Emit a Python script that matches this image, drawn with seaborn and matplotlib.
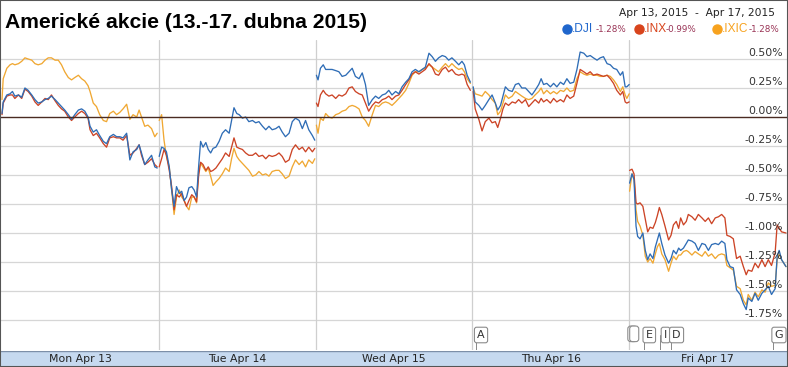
import matplotlib
matplotlib.use("Agg")
import matplotlib.pyplot as plt
import matplotlib.transforms as mtransforms
from matplotlib.lines import Line2D
from matplotlib.patches import Rectangle
import numpy as np
import pandas as pd
import seaborn as sns

# ---------------- data ----------------
title = "Americké akcie (13.-17. dubna 2015)"
date_range = "Apr 13, 2015  -  Apr 17, 2015"
day_labels = ["Mon Apr 13", "Tue Apr 14", "Wed Apr 15", "Thu Apr 16", "Fri Apr 17"]
series_names = [".DJI", ".INX", ".IXIC"]
series_changes = ["-1.28%", "-0.99%", "-1.28%"]
y_ticks = [0.50, 0.25, 0.00, -0.25, -0.50, -0.75, -1.00, -1.25, -1.50, -1.75]
flag_letters = ["A", "E", "I", "D", "G"]
flag_days = [3.055, 4.128, 4.232, 4.302, 4.955]

# minutes after the open (390-minute session)
t_mon = [0, 3, 12, 20, 26, 32, 41, 49, 57, 65, 74, 82, 90, 99, 107, 115, 123, 132, 140, 148,
         156, 165, 173, 181, 190, 198, 206, 214, 219, 227, 235, 243, 252, 260, 268, 277, 285, 293,
         301, 310, 318, 326, 335, 341, 347, 355, 363, 372, 380, 386]
t_tue = [1, 7, 13, 19, 26, 32, 38, 44, 51, 57, 63, 69, 75, 82, 88, 94, 99, 104, 110, 117,
         123, 129, 135, 142, 150, 158, 166, 175, 181, 187, 194, 200, 208, 216, 224, 233, 241, 249,
         258, 266, 274, 282, 291, 299, 307, 315, 324, 332, 340, 349, 357, 365, 373, 382, 388]
t_wed = [2, 6, 12, 19, 25, 33, 41, 50, 58, 66, 75, 83, 91, 99, 108, 116, 124, 132, 141, 149,
         157, 166, 174, 182, 190, 199, 207, 215, 224, 232, 240, 248, 257, 265, 273, 282, 290, 298,
         306, 315, 323, 331, 339, 348, 356, 364, 370, 377, 385]
t_thu = [2, 7, 16, 24, 32, 41, 49, 57, 63, 70, 76, 82, 90, 99, 107, 115, 123, 132, 140, 148,
         156, 165, 171, 177, 185, 194, 202, 210, 219, 227, 235, 243, 252, 260, 268, 277, 285, 293,
         301, 310, 318, 326, 335, 343, 351, 359, 368, 374, 380, 384, 390]
t_fri = [1, 7, 12, 17, 21, 27, 34, 40, 46, 52, 59, 65, 70, 75, 81, 89, 98, 104, 110, 117,
         123, 128, 135, 142, 147, 156, 164, 172, 181, 189, 197, 205, 214, 222, 230, 238, 243, 251,
         259, 267, 276, 284, 291, 296, 305, 313, 321, 330, 338, 346, 354, 363, 368, 373, 379, 390]

dji_mon = [0.03, 0.13, 0.19, 0.20, 0.22, 0.18, 0.19, 0.17, 0.25, 0.23, 0.19, 0.15, 0.12, 0.13, 0.15,
           0.16, 0.18, 0.15, 0.12, 0.09, 0.06, 0.02, -0.02, 0.02, 0.06, 0.07, 0.05, 0.00, -0.08, -0.13,
           -0.11, -0.16, -0.21, -0.23, -0.17, -0.15, -0.17, -0.17, -0.18, -0.14, -0.37, -0.30, -0.28,
           -0.24, -0.31, -0.41, -0.37, -0.33, -0.43, -0.44]
inx_mon = [0.02, 0.12, 0.18, 0.19, 0.19, 0.16, 0.19, 0.16, 0.24, 0.22, 0.18, 0.13, 0.10, 0.13, 0.16,
           0.15, 0.19, 0.14, 0.10, 0.07, 0.05, 0.00, -0.03, 0.00, 0.03, 0.05, 0.03, -0.01, -0.11, -0.16,
           -0.14, -0.18, -0.23, -0.26, -0.18, -0.17, -0.18, -0.18, -0.20, -0.16, -0.33, -0.31, -0.27,
           -0.24, -0.33, -0.41, -0.39, -0.36, -0.41, -0.43]
ixic_mon = [0.15, 0.33, 0.42, 0.45, 0.46, 0.45, 0.46, 0.48, 0.51, 0.50, 0.49, 0.46, 0.45, 0.46, 0.49,
            0.51, 0.51, 0.49, 0.49, 0.45, 0.39, 0.34, 0.32, 0.34, 0.36, 0.33, 0.31, 0.27, 0.22, 0.12,
            0.09, 0.02, -0.03, -0.04, 0.03, 0.05, 0.02, 0.04, 0.07, 0.11, -0.02, 0.02, 0.00, 0.06,
            0.00, -0.08, -0.07, -0.10, -0.17, -0.14]

dji_tue = [-0.34, -0.26, -0.27, -0.30, -0.43, -0.63, -0.77, -0.60, -0.66, -0.64, -0.72, -0.69, -0.61,
           -0.60, -0.63, -0.69, -0.43, -0.21, -0.26, -0.22, -0.28, -0.31, -0.27, -0.26, -0.21, -0.14,
           -0.11, -0.14, -0.03, 0.08, 0.03, 0.02, -0.01, 0.00, -0.04, -0.03, -0.05, -0.04, -0.08, -0.11,
           -0.08, -0.11, -0.10, -0.08, -0.13, -0.17, -0.14, -0.04, -0.01, -0.03, -0.10, -0.03, -0.11,
           -0.16, -0.20]
inx_tue = [-0.43, -0.36, -0.28, -0.33, -0.46, -0.60, -0.80, -0.67, -0.69, -0.66, -0.72, -0.77, -0.72,
           -0.67, -0.69, -0.73, -0.51, -0.39, -0.41, -0.46, -0.43, -0.47, -0.46, -0.44, -0.40, -0.36,
           -0.31, -0.34, -0.26, -0.18, -0.26, -0.27, -0.28, -0.31, -0.33, -0.33, -0.31, -0.34, -0.33,
           -0.36, -0.33, -0.34, -0.33, -0.31, -0.34, -0.39, -0.37, -0.28, -0.24, -0.28, -0.26, -0.30,
           -0.26, -0.30, -0.27]
ixic_tue = [-0.03, 0.02, -0.20, -0.34, -0.43, -0.63, -0.84, -0.69, -0.63, -0.69, -0.72, -0.77, -0.80,
            -0.69, -0.69, -0.74, -0.46, -0.40, -0.43, -0.47, -0.44, -0.51, -0.59, -0.56, -0.53, -0.49,
            -0.44, -0.47, -0.36, -0.27, -0.34, -0.37, -0.40, -0.43, -0.46, -0.51, -0.50, -0.47, -0.50,
            -0.49, -0.51, -0.47, -0.46, -0.46, -0.49, -0.53, -0.51, -0.43, -0.37, -0.41, -0.38, -0.43,
            -0.37, -0.40, -0.36]

dji_wed = [0.36, 0.32, 0.42, 0.45, 0.41, 0.41, 0.41, 0.40, 0.39, 0.35, 0.36, 0.39, 0.42, 0.35, 0.33,
           0.38, 0.28, 0.10, 0.15, 0.18, 0.16, 0.19, 0.20, 0.23, 0.19, 0.22, 0.20, 0.26, 0.30, 0.33,
           0.39, 0.41, 0.39, 0.41, 0.43, 0.55, 0.52, 0.48, 0.51, 0.53, 0.52, 0.49, 0.51, 0.48, 0.45,
           0.48, 0.45, 0.36, 0.30]
inx_wed = [0.12, 0.09, 0.19, 0.23, 0.20, 0.18, 0.19, 0.16, 0.19, 0.18, 0.20, 0.25, 0.26, 0.22, 0.20,
           0.19, 0.12, 0.05, 0.10, 0.13, 0.12, 0.15, 0.16, 0.18, 0.15, 0.18, 0.19, 0.23, 0.28, 0.32,
           0.37, 0.39, 0.37, 0.39, 0.41, 0.46, 0.43, 0.37, 0.36, 0.41, 0.43, 0.39, 0.41, 0.37, 0.36,
           0.37, 0.36, 0.28, 0.23]
ixic_wed = [-0.07, -0.14, -0.01, -0.03, 0.03, 0.00, -0.01, 0.02, 0.03, 0.05, 0.06, 0.09, 0.10, 0.09,
            0.07, 0.00, -0.03, -0.08, 0.02, 0.10, 0.09, 0.12, 0.13, 0.12, 0.10, 0.13, 0.16, 0.19, 0.23,
            0.29, 0.36, 0.39, 0.39, 0.41, 0.42, 0.45, 0.43, 0.41, 0.39, 0.43, 0.46, 0.43, 0.46, 0.43,
            0.41, 0.42, 0.39, 0.33, 0.29]

dji_thu = [0.26, 0.13, 0.10, 0.06, 0.10, 0.15, 0.19, 0.12, 0.06, 0.10, 0.18, 0.26, 0.23, 0.22, 0.28,
           0.29, 0.25, 0.25, 0.22, 0.19, 0.23, 0.28, 0.33, 0.28, 0.29, 0.26, 0.29, 0.26, 0.30, 0.28,
           0.33, 0.29, 0.30, 0.41, 0.56, 0.55, 0.52, 0.53, 0.51, 0.49, 0.51, 0.52, 0.46, 0.45, 0.42,
           0.41, 0.36, 0.39, 0.26, 0.26, 0.28]
inx_thu = [0.22, 0.07, -0.02, -0.12, -0.04, -0.01, -0.05, -0.04, -0.09, -0.01, 0.07, 0.12, 0.10, 0.13,
           0.12, 0.15, 0.12, 0.15, 0.09, 0.12, 0.15, 0.12, 0.16, 0.13, 0.15, 0.12, 0.16, 0.13, 0.15,
           0.13, 0.19, 0.16, 0.18, 0.29, 0.41, 0.39, 0.37, 0.39, 0.36, 0.37, 0.36, 0.35, 0.36, 0.33,
           0.29, 0.23, 0.19, 0.22, 0.13, 0.12, 0.13]
ixic_thu = [0.25, 0.20, 0.19, 0.18, 0.22, 0.19, 0.15, 0.12, 0.02, 0.05, 0.12, 0.19, 0.16, 0.18, 0.22,
            0.20, 0.18, 0.16, 0.15, 0.16, 0.19, 0.22, 0.25, 0.20, 0.23, 0.20, 0.22, 0.20, 0.23, 0.22,
            0.25, 0.22, 0.23, 0.33, 0.39, 0.37, 0.36, 0.37, 0.36, 0.36, 0.35, 0.35, 0.36, 0.35, 0.32,
            0.28, 0.22, 0.26, 0.19, 0.16, 0.20]

dji_fri = [-0.57, -0.49, -0.54, -0.94, -1.03, -1.05, -1.00, -1.15, -1.23, -1.18, -1.22, -1.12, -1.06,
           -1.00, -1.09, -1.19, -1.26, -1.22, -1.15, -1.18, -1.13, -1.15, -1.13, -1.09, -1.06, -1.07,
           -1.09, -1.15, -1.09, -1.10, -1.15, -1.10, -1.09, -1.10, -1.07, -1.09, -1.23, -1.29, -1.30,
           -1.49, -1.53, -1.61, -1.66, -1.56, -1.59, -1.52, -1.58, -1.52, -1.49, -1.46, -1.53, -1.48,
           -1.20, -1.15, -1.23, -1.29]
inx_fri = [-0.46, -0.45, -0.49, -0.74, -0.75, -0.74, -0.77, -0.88, -0.99, -0.95, -0.96, -0.91, -0.85,
           -0.78, -0.84, -0.94, -1.06, -1.02, -0.93, -0.90, -0.96, -0.87, -0.93, -0.90, -0.84, -0.86,
           -0.89, -0.84, -0.87, -0.90, -0.87, -0.92, -0.87, -0.86, -0.84, -0.87, -1.02, -1.03, -1.05,
           -1.22, -1.20, -1.29, -1.36, -1.32, -1.33, -1.26, -1.30, -1.23, -1.29, -1.23, -1.28, -1.17,
           -0.93, -0.96, -0.99, -1.00]
ixic_fri = [-0.64, -0.49, -0.53, -0.80, -0.90, -0.94, -1.02, -1.20, -1.25, -1.22, -1.26, -1.18, -1.12,
            -1.09, -1.18, -1.23, -1.33, -1.26, -1.20, -1.23, -1.19, -1.19, -1.16, -1.15, -1.16, -1.19,
            -1.16, -1.18, -1.20, -1.16, -1.20, -1.18, -1.22, -1.19, -1.18, -1.19, -1.28, -1.30, -1.32,
            -1.46, -1.48, -1.58, -1.62, -1.53, -1.58, -1.51, -1.55, -1.49, -1.51, -1.43, -1.46, -1.45,
            -1.23, -1.18, -1.23, -1.29]

# ---------------- build long table ----------------
days_t = [t_mon, t_tue, t_wed, t_thu, t_fri]
vals = {
    ".DJI": [dji_mon, dji_tue, dji_wed, dji_thu, dji_fri],
    ".INX": [inx_mon, inx_tue, inx_wed, inx_thu, inx_fri],
    ".IXIC": [ixic_mon, ixic_tue, ixic_wed, ixic_thu, ixic_fri],
}
rows = []
for name in series_names:
    for d, (tt, vv) in enumerate(zip(days_t, vals[name])):
        for t, v in zip(tt, vv):
            rows.append({"series": name, "day": d, "x": d + t / 390.0, "value": v})
df = pd.DataFrame(rows)

line_colors = {".DJI": "#2f6db6", ".INX": "#cc4426", ".IXIC": "#f0a833"}
dot_colors = {".DJI": "#1f66cc", ".INX": "#d8441c", ".IXIC": "#f7a21e"}

# ---------------- figure ----------------
sns.set_style("white")
plt.rcParams["font.family"] = ["DejaVu Sans"]

W, H = 788, 367
fig = plt.figure(figsize=(W / 100, H / 100), dpi=100)
fig.patch.set_facecolor("white")

ax_top_px, ax_bot_px = 40, 350
ax = fig.add_axes([0, 1 - ax_bot_px / H, 1, (ax_bot_px - ax_top_px) / H])
dayw = 156.8
ax.set_xlim(-2 / dayw, (W - 2) / dayw)
ax.set_ylim((117 - ax_bot_px) / 116, (117 - ax_top_px) / 116)

# grid
for yt in y_ticks:
    if yt != 0:
        ax.axhline(yt, color="#d6d6d6", lw=0.9, zorder=0)
for d in range(1, 5):
    ax.axvline(d, color="#cfcfcf", lw=0.9, zorder=0)
ax.axhline(0, color="#4a2b22", lw=1.0, zorder=3)

sns.lineplot(data=df, x="x", y="value", hue="series", units="day", estimator=None,
             palette=line_colors, hue_order=[".IXIC", ".INX", ".DJI"], lw=0.95,
             legend=False, ax=ax, zorder=2)

for s in ax.spines.values():
    s.set_visible(False)
ax.set_xlabel("")
ax.set_ylabel("")
ax.set_yticks([])
ax.set_xticks(range(0, 5))
ax.set_xticklabels([])
ax.tick_params(axis="x", direction="in", length=4, width=1, color="#222222", pad=0)

# y tick labels inside, right
trans = mtransforms.blended_transform_factory(ax.transAxes, ax.transData)
for yt in y_ticks:
    ax.text(783 / W, yt + 0.006, f"{yt:.2f}%", transform=trans, ha="right", va="bottom",
            fontsize=7.8, color="#333333")

# flags
fy = (117 - 335) / 116
for letter, fx in zip(flag_letters, flag_days):
    ax.plot([fx - 0.035, fx - 0.035], [fy, ax.get_ylim()[0]], color="#888888", lw=0.7, zorder=4)
    ax.text(fx, fy, letter, ha="center", va="center", fontsize=8, color="#333333", zorder=5,
            bbox=dict(boxstyle="round,pad=0.25,rounding_size=0.2", fc="white", ec="#8c8c8c", lw=0.8))
for off in (0.0, 0.012):
    ax.text(4.02 + off, fy + 0.01, " ", ha="center", va="center", fontsize=8, zorder=4,
            bbox=dict(boxstyle="round,pad=0.25", fc="white", ec="#8c8c8c", lw=0.8))

# bottom band with day labels
band = fig.add_axes([0, 1 - 366 / H, 1, 15 / H])
band.set_facecolor("#c6d9ef")
band.set_xlim(ax.get_xlim())
band.set_ylim(0, 1)
band.set_xticks([])
band.set_yticks([])
for s in band.spines.values():
    s.set_visible(False)
band.axhline(1, color="#7d8fa8", lw=1)
for d, lab in enumerate(day_labels):
    band.text(d + 0.5, 0.45, lab, ha="center", va="center", fontsize=7.8, color="#222222")

# title + header
fig.text(5 / W, 1 - 22 / H, title, fontsize=15.2, fontweight="bold",
         family=["Liberation Sans", "DejaVu Sans"], va="center", ha="left", color="black")
fig.text(775 / W, 1 - 13 / H, date_range, fontsize=7.7, ha="right", va="center", color="#222222")

name_x = [572, 644, 722]
chg_x = [596, 666, 749]
dot_x = [567, 639, 717]
ly = 1 - 29 / H
for i, name in enumerate(series_names):
    fig.add_artist(Line2D([dot_x[i] / W], [ly], marker="o", ms=6.5, color=dot_colors[name],
                          transform=fig.transFigure))
    fig.text(name_x[i] / W, ly, name, fontsize=8.6, color=dot_colors[name], va="center",
             ha="left", family=["Liberation Sans", "DejaVu Sans"])
    fig.text(chg_x[i] / W, ly, series_changes[i], fontsize=6.3, color="#993355", va="center",
             ha="left")

# outer frame
fig.add_artist(Rectangle((0, 0), 1, 1, transform=fig.transFigure, fill=False,
                         ec="#555555", lw=1.5))

fig.savefig("out.png", dpi=100)
